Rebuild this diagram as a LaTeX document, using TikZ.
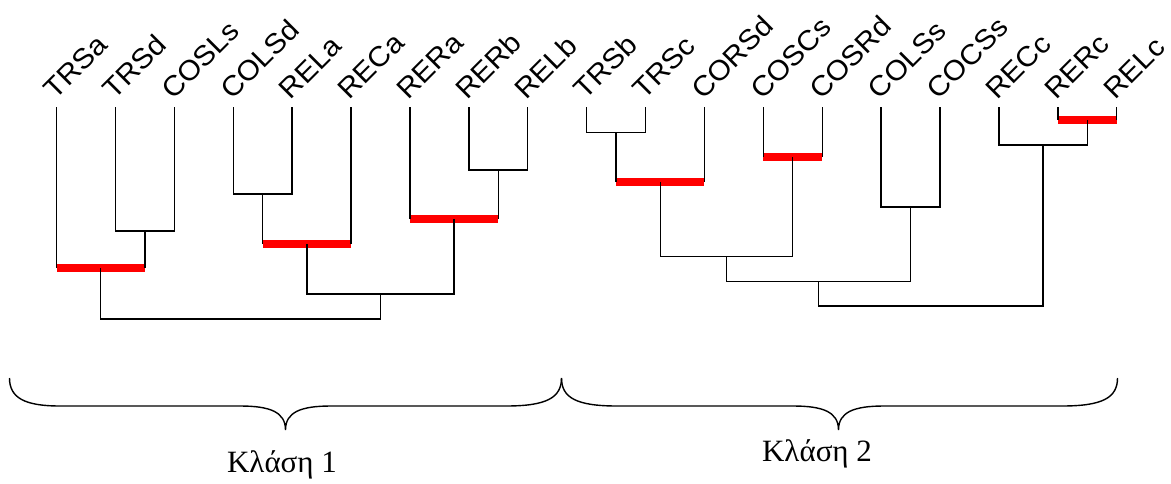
\documentclass[tikz,border=0pt]{standalone}
\usepackage{fontspec}
\usepackage{graphicx}
\setmainfont{Liberation Serif}
\newfontfamily\leaffont{Liberation Sans}
\usetikzlibrary{calc}

% join two subtrees (#2, #3) at height #4; the join point is named #1
\newcommand\mergeat[4]{%
  \coordinate (#1m) at ($(#2)!.5!(#3)$);
  \coordinate (#1) at (#1m |- 0,#4);
  \coordinate (#1L) at (#2 |- 0,#4);
  \coordinate (#1R) at (#3 |- 0,#4);
}
\newcommand\blackjoin[3]{\draw[link] (#2) -- (#1L) -- (#1R) -- (#3);}
\newcommand\redjoin[3]{%
  \draw[redbar] (#1L) -- (#1R);
  \draw[link] (#2) -- (#1L) (#3) -- (#1R);
}

\begin{document}
\begin{tikzpicture}[x=1pt,y=-1pt,
  link/.style={line width=1.4pt,black,line join=miter},
  redbar/.style={line width=8pt,red},
  leaflabel/.style={rotate=45,anchor=south west,inner sep=0pt,
    font=\leaffont\fontsize{28}{28}\selectfont},
  classlabel/.style={inner sep=0pt,font=\fontsize{31}{31}\selectfont},
  bracepath/.style={line width=1.4pt,black}]
\useasboundingbox (0,0) rectangle (1171,483);

% leaves with their rotated names
\foreach \nm [count=\i] in {TRSa,TRSd,COSLs,COLSd,RELa,RECa,RERa,RERb,RELb,
    TRSb,TRSc,CORSd,COSCs,COSRd,COLSs,COCSs,RECc,RERc,RELc} {
  \pgfmathsetmacro\xx{56.5+58.9*(\i-1)}
  \coordinate (\nm) at (\xx,107);
  \node[leaflabel] (lab\nm) at (\xx-1,101) {\scalebox{1.06}[1]{\nm}};
}

% first cluster
\mergeat{A}{TRSd}{COSLs}{231}
\mergeat{B}{TRSa}{A}{268}
\mergeat{C}{COLSd}{RELa}{194}
\mergeat{D}{C}{RECa}{244}
\mergeat{E}{RERb}{RELb}{170}
\mergeat{F}{RERa}{E}{219}
\mergeat{G}{D}{F}{294}
\mergeat{H}{B}{G}{319}

% second cluster
\mergeat{I}{TRSb}{TRSc}{132.7}
\mergeat{J}{I}{CORSd}{182}
\mergeat{K}{COSCs}{COSRd}{157.3}
\mergeat{L}{J}{K}{256.3}
\mergeat{M}{COLSs}{COCSs}{207}
\mergeat{N}{L}{M}{281.7}
\mergeat{O}{RERc}{RELc}{120.3}
\mergeat{P}{RECc}{O}{145}
\mergeat{Q}{N}{P}{306}

\redjoin{B}{TRSa}{A}
\redjoin{D}{C}{RECa}
\redjoin{F}{RERa}{E}
\redjoin{J}{I}{CORSd}
\redjoin{K}{COSCs}{COSRd}
\redjoin{O}{RERc}{RELc}

\blackjoin{A}{TRSd}{COSLs}
\blackjoin{C}{COLSd}{RELa}
\blackjoin{E}{RERb}{RELb}
\blackjoin{G}{D}{F}
\blackjoin{H}{B}{G}
\blackjoin{I}{TRSb}{TRSc}
\blackjoin{L}{J}{K}
\blackjoin{M}{COLSs}{COCSs}
\blackjoin{N}{L}{M}
\blackjoin{P}{RECc}{O}
\blackjoin{Q}{N}{P}

% braces under the two classes
\draw[bracepath] (9.5,378) .. controls (9.5,398) and (25,406) .. (60,406)
  -- (240,406) .. controls (270,406) and (285.5,412) .. (285.5,430)
  .. controls (285.5,412) and (301,406) .. (331,406)
  -- (506,406) .. controls (546,406) and (561.5,398) .. (561.5,378);
\draw[bracepath] (561.5,378) .. controls (561.5,398) and (577,406) .. (617,406)
  -- (793,406) .. controls (823,406) and (838.5,412) .. (838.5,430)
  .. controls (838.5,412) and (854,406) .. (884,406)
  -- (1062,406) .. controls (1102,406) and (1117.5,398) .. (1117.5,378);

\node[classlabel] (class1) at (282,465) {Κλάση 1};
\node[classlabel] (class2) at (817,454) {Κλάση 2};
\end{tikzpicture}
\end{document}
